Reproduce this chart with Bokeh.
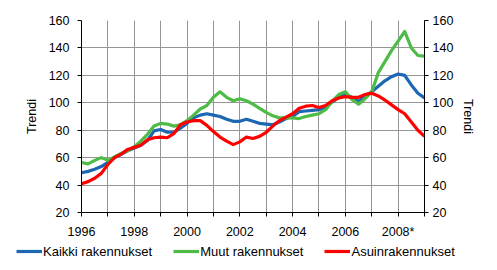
from bokeh.plotting import figure
from bokeh.layouts import column
from bokeh.models import FixedTicker, LinearAxis, Range1d, Legend, LegendItem
from bokeh.embed import file_html
from bokeh.resources import INLINE

# quarterly readings (year fractions)
t = [1996.0 + 0.25 * i for i in range(53)]

kaikki = [49, 50, 51.5, 53.5, 56.5, 60, 62.5, 65, 67, 69, 72.5, 79.5, 80.5, 78.5, 78.5, 81.5,
          85, 89, 91, 92, 91, 90, 88, 86.5, 86.5, 88, 86.5, 85, 84.5, 84, 86, 88.5,
          90, 93.5, 94, 94.5, 95, 96.5, 100.5, 104, 106, 104, 101, 105, 108, 112, 116, 119,
          121, 120, 113, 107, 103.5]
muut = [56.5, 55.5, 58, 60, 58, 60.5, 63, 65, 68, 72, 77, 83, 85, 84.5, 83, 84,
        87, 91, 95.5, 98, 104, 108, 104, 101.5, 103, 101.5, 99, 96, 93, 90.5, 89, 89,
        89, 88.5, 90, 91, 92, 95, 101, 106, 108, 102.5, 99, 103, 108, 122, 130, 138,
        145, 152, 140, 134.5, 134]
asuin = [41, 42.5, 45, 48.5, 55, 60, 62.5, 66, 67.5, 69, 73, 74.5, 75, 74.5, 77.5, 84,
         86, 87, 87, 83.5, 79, 75, 72, 69.5, 71.5, 75, 74, 75.5, 78.5, 83, 87, 89.5,
         92, 96, 97.5, 98, 96.5, 98, 101.5, 103.5, 104.5, 104, 104, 106, 107, 105, 102, 98.5,
         95, 92, 86, 80, 75.5]

series_names = ["Kaikki rakennukset", "Muut rakennukset", "Asuinrakennukset"]
colors = ["#1c66b2", "#4dbb45", "#ff0000"]

x_ticks = list(range(1996, 2010))
x_labels = {1996: "1996", 1998: "1998", 2000: "2000", 2002: "2002", 2004: "2004",
            2006: "2006", 2008: "2008*"}
y_ticks = [20, 40, 60, 80, 100, 120, 140, 160]
y_label = "Trendi"

FONT = "Liberation Sans"


def style_axis(ax, standoff, label_standoff, size="12.5px"):
    ax.minor_tick_line_color = None
    ax.major_tick_in = 0
    ax.major_tick_out = 4
    ax.axis_line_color = "black"
    ax.major_tick_line_color = "black"
    ax.major_label_text_font = FONT
    ax.major_label_text_font_size = size
    ax.major_label_text_color = "black"
    ax.major_label_standoff = standoff
    ax.axis_label_text_font = FONT
    ax.axis_label_text_font_size = size
    ax.axis_label_text_font_style = "normal"
    ax.axis_label_text_color = "black"
    ax.axis_label_standoff = label_standoff


p = figure(width=497, height=241, output_backend="svg", toolbar_location=None,
           x_range=Range1d(1996, 2009), y_range=Range1d(20, 160),
           min_border_left=81, min_border_right=73, min_border_top=20, min_border_bottom=29,
           background_fill_color="white", border_fill_color="white")
p.outline_line_color = None
p.frame_align = False

for ys, c in zip([kaikki, muut, asuin], colors):
    p.line(t, ys, line_color=c, line_width=3.2, line_join="round")

xa = p.xaxis[0]
xa.ticker = FixedTicker(ticks=x_ticks)
xa.major_label_overrides = {y: x_labels.get(y, "") for y in x_ticks}
style_axis(xa, 8, 5)

ya = p.yaxis[0]
ya.ticker = FixedTicker(ticks=y_ticks)
ya.axis_label = y_label
style_axis(ya, 8, 7)

ry = LinearAxis(ticker=FixedTicker(ticks=y_ticks), axis_label=y_label)
style_axis(ry, 4, 5)
p.add_layout(ry, "right")

p.xgrid.ticker = FixedTicker(ticks=x_ticks)
p.ygrid.ticker = FixedTicker(ticks=y_ticks)
p.grid.grid_line_color = "#969696"
p.grid.grid_line_width = 1
p.grid.grid_line_alpha = 1

# legend strip
lg = figure(width=497, height=29, output_backend="svg", toolbar_location=None,
            x_axis_type=None, y_axis_type=None,
            x_range=Range1d(0, 1), y_range=Range1d(0, 1),
            min_border=0, background_fill_color="white", border_fill_color="white")
lg.outline_line_color = None
lg.frame_align = False
lg.grid.visible = False
dummies = [lg.line([-5, -4], [-5, -4], line_color=c, line_width=3.2) for c in colors]
legend = Legend(items=[LegendItem(label=n, renderers=[r]) for n, r in zip(series_names, dummies)],
                orientation="horizontal", location=(16, 9),
                glyph_width=26, glyph_height=20, label_height=20, label_standoff=1,
                spacing=21, padding=0, margin=0,
                border_line_color=None, background_fill_alpha=0,
                label_text_font=FONT, label_text_font_size="13px", label_text_color="black")
lg.add_layout(legend, "center")

layout = column(p, lg, spacing=0)
open("out.html", "w").write(file_html(layout, INLINE))
